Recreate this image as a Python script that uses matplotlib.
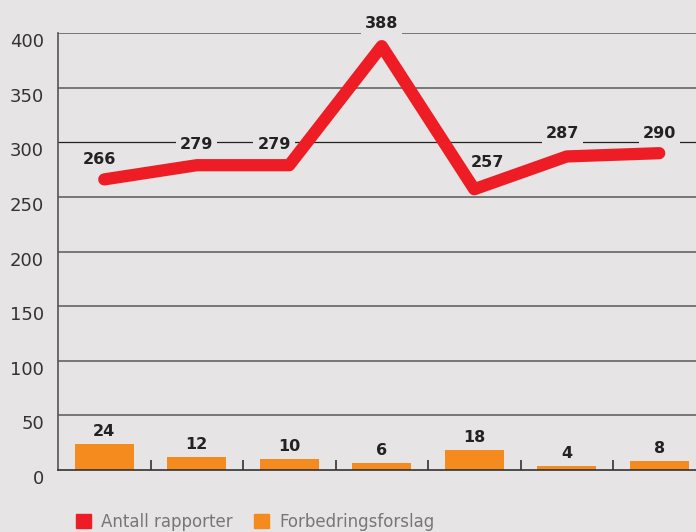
import numpy as np
import matplotlib
matplotlib.use('Agg')
from matplotlib import pyplot as plt
from matplotlib.patches import Patch
import matplotlib.transforms as mtransforms

# data
rapporter = [266, 279, 279, 388, 257, 287, 290]
forslag = [24, 12, 10, 6, 18, 4, 8]
yticks = [0, 50, 100, 150, 200, 250, 300, 350, 400]

bg = '#e6e4e4'
red = '#ee1c25'
orange = '#f58b1f'

plt.rcParams['font.family'] = ['DejaVu Sans']

fig = plt.figure(figsize=(6.96, 5.32), dpi=100, facecolor=bg)
# axes spans past the right edge like the original
ax = fig.add_axes([58 / 696, 1 - 470 / 532, 647.5 / 696, 437 / 532], facecolor=bg)

x = np.arange(len(rapporter))
ax.bar(x, forslag, width=0.64, color=orange, zorder=2)
ax.plot(x, rapporter, color=red, lw=8.8, solid_capstyle='round', solid_joinstyle='round', zorder=4)

# label offsets in points
line_offsets = [(-3.5, 14), (0, 15), (-11, 15), (0, 16), (9.5, 19), (-3, 16.5), (0, 14.5)]
for xi, v, off in zip(x, rapporter, line_offsets):
    ax.annotate(str(v), (xi, v), xytext=off, textcoords='offset points',
                ha='center', va='center', fontsize=11.5, fontweight='bold', color='#222222', zorder=3,
                bbox=dict(boxstyle='square,pad=0.25', fc=bg, ec='none'))
for xi, v in zip(x, forslag):
    ax.annotate(str(v), (xi, v), xytext=(0, 9), textcoords='offset points',
                ha='center', va='center', fontsize=11.5, fontweight='bold', color='#222222', zorder=5)

ax.set_xlim(-0.5, 6.5)
ax.set_ylim(0, 400)
ax.set_yticks(yticks)
for y in yticks[1:]:
    if y == 300:
        ax.axhline(y, color='#222222', lw=0.9, zorder=1)
    else:
        ax.axhline(y, color='#6e6e6e', lw=1.3, zorder=1)

for s in ['top', 'right']:
    ax.spines[s].set_visible(False)
ax.spines['left'].set_color('#555555')
ax.spines['left'].set_linewidth(1.2)
ax.spines['bottom'].set_color('#333333')
ax.spines['bottom'].set_linewidth(1.2)

ax.set_xticks(np.arange(0.5, 6, 1))
ax.set_xticklabels([])
ax.tick_params(axis='x', direction='in', length=7, width=1.2, color='#333333')
ax.tick_params(axis='y', length=0, pad=10, labelsize=13, labelcolor='#333333')
offset = mtransforms.ScaledTranslation(0, -7 / 100, fig.dpi_scale_trans)
for lab in ax.get_yticklabels():
    lab.set_transform(lab.get_transform() + offset)

handles = [Patch(color=red, label='Antall rapporter'), Patch(color=orange, label='Forbedringsforslag')]
fig.legend(handles=handles, loc='center left', bbox_to_anchor=(61 / 696, 1 - 522 / 532), ncol=2,
           frameon=False, handlelength=0.9, handleheight=0.9, handletextpad=0.6, columnspacing=1.3,
           fontsize=12, labelcolor='#777777')

fig.savefig('out.png', dpi=100, facecolor=bg)
